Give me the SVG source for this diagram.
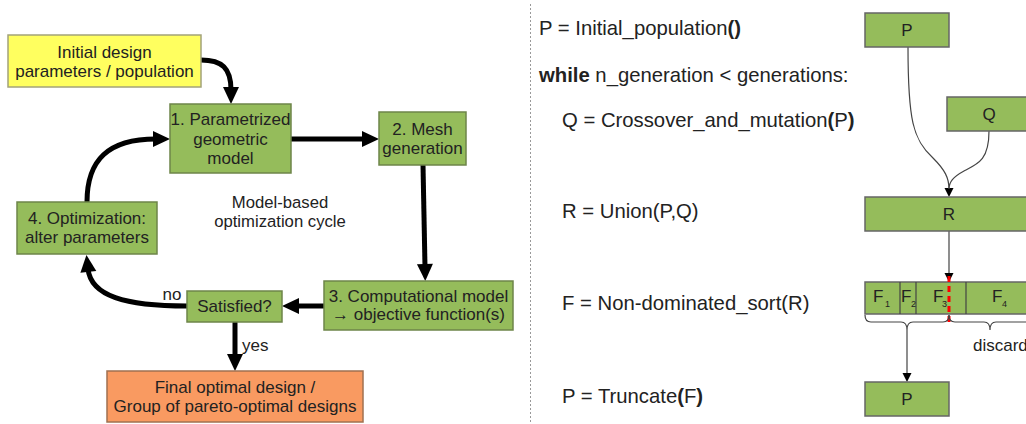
<svg xmlns="http://www.w3.org/2000/svg" width="1026" height="424" viewBox="0 0 1026 424">
<style>
text{font-family:"Liberation Sans",Arial,sans-serif;fill:#222;}
.t{font-size:17px;text-anchor:middle;}
.code{font-size:20.3px;}
.b{font-weight:bold;}
.g{fill:#95bc5b;stroke:#6e8549;stroke-width:1.5;}
.thick{fill:none;stroke:#000;stroke-width:5;}
.thin{fill:none;stroke:#444;stroke-width:1.2;}
</style>
<defs>
<marker id="ah" markerUnits="userSpaceOnUse" viewBox="-1 -9 19 18" markerWidth="19" markerHeight="18" refX="3" refY="0" orient="auto" overflow="visible">
<polygon points="0,-8 17,0 0,8" fill="#000"/>
</marker>
<marker id="as" markerUnits="userSpaceOnUse" viewBox="-1 -5 11 10" markerWidth="11" markerHeight="10" refX="1" refY="0" orient="auto" overflow="visible">
<polygon points="0,-4.5 9,0 0,4.5" fill="#000"/>
</marker>
</defs>
<rect width="1026" height="424" fill="#fff"/>
<line x1="530.5" y1="4" x2="530.5" y2="424" stroke="#999" stroke-width="1" stroke-dasharray="2,2"/>

<g id="connectors">
<path class="thick" d="M201,60 C222,60 231,68 231,90" marker-end="url(#ah)"/>
<path class="thick" d="M291,139 L365,139" marker-end="url(#ah)"/>
<path class="thick" d="M423,165 L425,267" marker-end="url(#ah)"/>
<path class="thick" d="M324,306 L296,306" marker-end="url(#ah)"/>
<path class="thick" d="M187,306 C125,306 91,296 88,269" marker-end="url(#ah)"/>
<path class="thick" d="M235,322 L235,357" marker-end="url(#ah)"/>
<path class="thick" d="M87,202 C87,160 108,139 156,139" marker-end="url(#ah)"/>
<path class="thin" d="M908,47 C908,120 913,140 933,158 C945,170 949,178 949,189" marker-end="url(#as)"/>
<path class="thin" d="M989,131 C989,160 978,164 964,171 C953,177 949,182 949,189"/>
<path class="thin" d="M949,231 L949,274" marker-end="url(#as)"/>
<path class="thin" d="M907,330 L907,374" marker-end="url(#as)"/>
</g>

<g id="initial">
<rect x="8" y="35" width="193" height="52" fill="#ffff5f" stroke="#a3a37a" stroke-width="1.5"/>
<text class="t" x="104.5" y="58">Initial design</text>
<text class="t" x="104.5" y="77">parameters / population</text>
</g>
<g id="box1">
<rect class="g" x="170" y="104" width="121" height="69"/>
<text class="t" x="230.5" y="125">1. Parametrized</text>
<text class="t" x="230.5" y="144.5">geometric</text>
<text class="t" x="230.5" y="164">model</text>
</g>
<g id="box2">
<rect class="g" x="379" y="112" width="87" height="53"/>
<text class="t" x="422.5" y="135">2. Mesh</text>
<text class="t" x="422.5" y="154">generation</text>
</g>
<g id="box3">
<rect class="g" x="324" y="281" width="189" height="49"/>
<text class="t" x="418.5" y="302">3. Computational model</text>
<text class="t" x="418.5" y="320">→ objective function(s)</text>
</g>
<g id="satisfied">
<rect class="g" x="187" y="291" width="95" height="31"/>
<text class="t" x="234.5" y="312">Satisfied?</text>
</g>
<g id="box4">
<rect class="g" x="17" y="202" width="140" height="52"/>
<text class="t" x="87" y="224">4. Optimization:</text>
<text class="t" x="87" y="243">alter parameters</text>
</g>
<g id="final">
<rect x="107" y="371" width="256" height="51" fill="#f99a61" stroke="#a07050" stroke-width="1.5"/>
<text class="t" x="235" y="393">Final optimal design /</text>
<text class="t" x="235" y="412">Group of pareto-optimal designs</text>
</g>
<g id="labels">
<text class="t" x="280" y="208" style="font-size:16.7px">Model-based</text>
<text class="t" x="280" y="227" style="font-size:16.7px">optimization cycle</text>
<text class="t" x="172" y="300">no</text>
<text x="242" y="351" style="font-size:17px">yes</text>
</g>

<g id="code">
<text class="code" x="539" y="35">P = Initial_population<tspan class="b">()</tspan></text>
<text class="code" x="539" y="82"><tspan class="b">while</tspan> n_generation &lt; generations:</text>
<text class="code" x="562" y="127">Q = Crossover_and_mutation<tspan class="b">(</tspan>P<tspan class="b">)</tspan></text>
<text class="code" x="562" y="218">R = Union(P,Q)</text>
<text class="code" x="562" y="310">F = Non-dominated_sort(R)</text>
<text class="code" x="562" y="403">P = Truncate<tspan class="b">(</tspan>F<tspan class="b">)</tspan></text>
</g>

<g id="nodeP">
<rect class="g" x="865" y="13" width="84" height="34" style="stroke:#666"/>
<text class="t" x="907" y="36">P</text>
</g>
<g id="nodeQ">
<rect class="g" x="947" y="97" width="84" height="34" style="stroke:#666"/>
<text class="t" x="989" y="120">Q</text>
</g>
<g id="nodeR">
<rect class="g" x="865" y="197" width="170" height="34" style="stroke:#666"/>
<text class="t" x="949" y="220">R</text>
</g>
<g id="nodeF">
<rect class="g" x="865" y="282" width="170" height="32" style="stroke:#666"/>
<line x1="900" y1="282" x2="900" y2="314" stroke="#444" stroke-width="1.2"/>
<line x1="916" y1="282" x2="916" y2="314" stroke="#444" stroke-width="1.2"/>
<line x1="966" y1="282" x2="966" y2="314" stroke="#444" stroke-width="1.2"/>
<line x1="949" y1="276" x2="949" y2="322" stroke="#f00" stroke-width="3" stroke-dasharray="6,4"/>
<text x="873" y="302" style="font-size:17px">F</text><text x="885" y="307" style="font-size:9px">1</text>
<text x="901" y="302" style="font-size:17px">F</text><text x="911" y="307" style="font-size:9px">2</text>
<text x="933" y="302" style="font-size:17px">F</text><text x="942" y="307" style="font-size:9px">3</text>
<text x="992" y="302" style="font-size:17px">F</text><text x="1002" y="307" style="font-size:9px">4</text>
</g>
<g id="braces">
<path class="thin" d="M865,315 Q865,322 871,322 L901,322 Q907,322 907,330 Q907,322 913,322 L943,322 Q949,322 949,315"/>
<path class="thin" d="M949,315 Q949,322 955,322 L984,322 Q990,322 990,330 Q990,322 996,322 L1030,322"/>
<text x="973" y="351" style="font-size:17px">discard</text>
</g>
<g id="nodeP2">
<rect class="g" x="865" y="382" width="84" height="34" style="stroke:#666"/>
<text class="t" x="907" y="405">P</text>
</g>
</svg>
